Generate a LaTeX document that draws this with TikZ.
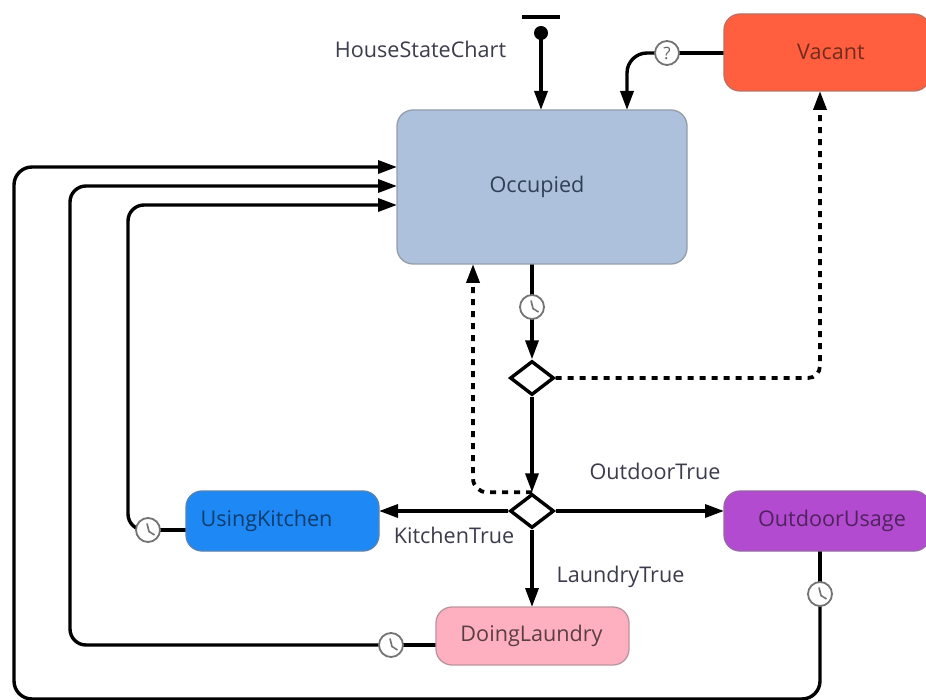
\documentclass[tikz,border=0pt]{standalone}
\usepackage{fontspec}
\setmainfont{Open Sans}
\usetikzlibrary{arrows.meta,shapes.geometric,backgrounds}
\definecolor{occfill}{HTML}{ADC1DC}
\definecolor{vacfill}{HTML}{FF5F3F}
\definecolor{kitfill}{HTML}{1E88F5}
\definecolor{laufill}{HTML}{FFB0C0}
\definecolor{outfill}{HTML}{B24BD0}
\definecolor{labelgray}{HTML}{3C3C4C}
\definecolor{occtext}{HTML}{2F3F55}
\newcommand{\tshift}[3]{\raisebox{#2}{\hspace*{#1}#3\hspace*{-#1}}}
\tikzset{
  state/.style={draw=#1!45!gray, line width=1.3pt, fill=#1, rounded corners=16pt, inner sep=0pt, font=\fontsize{21.6pt}{25pt}\selectfont},
  lab/.style={text=labelgray, inner sep=0pt, font=\fontsize{21.6pt}{25pt}\selectfont},
  trans/.style={line width=3.4pt, draw=black, line cap=butt, -{Triangle[length=19pt,width=13pt]}},
  plainline/.style={line width=3.4pt, draw=black},
  dashline/.style={line width=3.8pt, draw=black, dash pattern=on 6pt off 6pt, -{Triangle[length=19pt,width=13pt]}},
  choice/.style={diamond, draw=black, line width=3.4pt, fill=white, aspect=1.3, minimum width=44pt, minimum height=34pt, inner sep=0pt},
  timer/.style={circle, draw=black!55, line width=1.8pt, fill=white, minimum size=24pt, inner sep=0pt,
    path picture={\draw[black!55, line width=1.6pt] ([shift={(-1pt,6.5pt)}]path picture bounding box.center) -- ([shift={(1pt,-1.5pt)}]path picture bounding box.center) -- ([shift={(6.5pt,-5pt)}]path picture bounding box.center);}},
  query/.style={circle, draw=black!55, line width=1.8pt, fill=white, minimum size=24pt, inner sep=0pt, text=black!60, font=\fontsize{17pt}{19pt}\selectfont},
}
\begin{document}
\begin{tikzpicture}[x=1pt,y=-1pt]
\useasboundingbox (0,0) rectangle (926,700);
% states
\node[state=occfill, minimum width=290pt, minimum height=154pt, text=occtext] (occ) at (542,187) {\tshift{-5pt}{4pt}{Occupied}};
\node[state=vacfill, minimum width=206pt, minimum height=77pt, text=vacfill!45!black] (vac) at (827,52.5) {\tshift{4pt}{2pt}{Vacant}};
\node[state=kitfill, minimum width=193pt, minimum height=60pt, text=kitfill!45!black] (kit) at (282.5,521) {\tshift{-16pt}{2pt}{UsingKitchen}};
\node[state=laufill, minimum width=193pt, minimum height=58pt, text=laufill!35!black] (lau) at (532.5,636) {\tshift{-1pt}{2pt}{DoingLaundry}};
\node[state=outfill, minimum width=206pt, minimum height=60pt, text=outfill!45!black] (out) at (827,521) {\tshift{5pt}{2pt}{OutdoorUsage}};
% pseudostates
\node[choice] (d1) at (532,378) {};
\node[choice] (d2) at (532,511) {};
\node[timer] (t1) at (532,307) {};
\node[timer] (t2) at (148,530) {};
\node[timer] (t3) at (391,645) {};
\node[timer] (t4) at (820,594) {};
\node[query] (q) at (667,53) {?};
\node[circle, fill=black, minimum size=14pt, inner sep=0pt] (init) at (541,33) {};
\node[fill=black, minimum width=38pt, minimum height=3.4pt, inner sep=0pt] (bar) at (541,17) {};
% labels
\node[lab] (l1) at (420.5,49.5) {HouseStateChart};
\node[lab] (l2) at (454,535) {KitchenTrue};
\node[lab] (l3) at (620.5,577) {LaundryTrue};
\node[lab] (l4) at (655,471) {OutdoorTrue};
% anchors on the borders and route corners
\coordinate (occA) at (397,167);
\coordinate (occB) at (397,186);
\coordinate (occC) at (397,205);
\coordinate (occD) at (627,110);
\coordinate (occE) at (473,264);
\coordinate (occF) at (532,264);
\coordinate (occG) at (541,110);
\coordinate (vacB) at (820,91);
\coordinate (kitW) at (186,530);
\coordinate (kitE) at (379,511);
\coordinate (outW) at (724,511);
\coordinate (outS) at (820,551);
\coordinate (lauN) at (532,607);
\coordinate (lauW) at (436,645);
\coordinate (vacW) at (724,53);
\begin{pgfonlayer}{background}
\fill[white] (0,0) rectangle (926,700);
\draw[trans] (init.center) -- (occG);
\draw[plainline] (vacW) -- (q.center);
\draw[trans, rounded corners=20pt] (q.center) -| (occD);
\draw[plainline] (occF) -- (t1.center);
\draw[trans] (t1.center) -- (d1.north);
\draw[trans] (d1.south) -- (d2.north);
\draw[dashline, rounded corners=12pt] (d1.east) -- (vacB |- d1.east) -- (vacB);
\draw[dashline, rounded corners=14pt] (d2.north) -- (occE |- d2.north) -- (occE);
\draw[trans] (d2.west) -- (kitE);
\draw[trans] (d2.east) -- (outW);
\draw[trans] (d2.south) -- (lauN);
\draw[plainline] (kitW) -- (t2.center);
\draw[trans, rounded corners=16pt] (t2.center) -| (128,205) -- (occC);
\draw[plainline] (lauW) -- (t3.center);
\draw[trans, rounded corners=16pt] (t3.center) -| (70,186) -- (occB);
\draw[plainline] (outS) -- (t4.center);
\draw[trans, rounded corners=18pt] (t4.center) |- (14,699) |- (occA);
\end{pgfonlayer}
\end{tikzpicture}
\end{document}
